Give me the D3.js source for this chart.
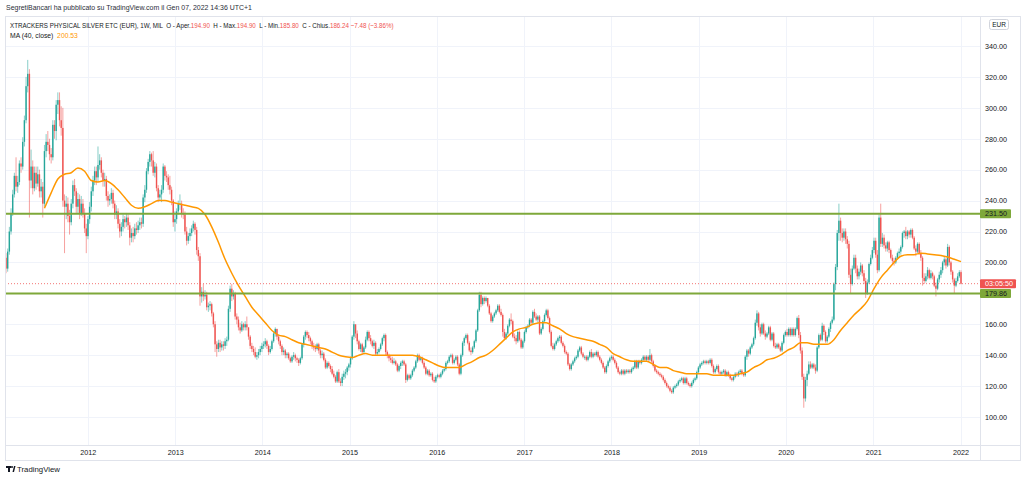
<!DOCTYPE html>
<html><head><meta charset="utf-8">
<script src="https://cdn.jsdelivr.net/npm/d3@7"></script>
<style>
html,body{margin:0;padding:0;background:#fff;}
svg{display:block;font-family:"Liberation Sans",Arial,sans-serif;}
</style></head><body>
<svg id="c" width="1024" height="480"></svg>
<script>
// ---------------- DATA (weekly bars) ----------------
const startWeek = "2011-01-24";
const firstOpen = 203;
const closes = [
196,207,220,232,244,256,249,252,264,262,
278,292,314,322,253,262,248,258,251,257,
246,249,238,272,278,276,270,268,289,285,
302,305,292,287,240,236,238,230,226,238,
250,246,236,241,232,238,232,222,217,228,
236,246,253,259,255,263,266,258,253,254,
243,240,241,245,238,231,233,225,220,223,
228,226,229,224,216,219,217,222,221,224,
226,225,242,247,259,265,270,266,258,262,
248,242,244,247,262,256,255,250,247,240,
226,228,233,238,238,232,231,220,214,217,
219,222,225,221,208,204,178,181,178,179,
171,172,173,167,160,147,144,148,145,147,
146,149,150,170,183,178,180,165,163,158,
156,160,158,160,158,152,146,144,142,139,
140,142,144,146,147,149,146,142,144,149,
154,157,152,149,146,142,143,140,141,138,
136,139,140,138,137,135,138,147,152,155,
153,151,149,146,145,144,147,143,140,141,
137,132,135,133,131,128,126,123,129,123,
122,126,128,129,132,134,138,152,160,154,
149,144,147,142,145,150,155,151,149,146,
148,141,142,144,147,151,153,142,140,138,
137,135,136,134,130,133,135,136,134,124,
127,125,127,130,132,136,140,137,138,135,
132,128,130,127,128,124,123,126,127,126,
128,130,131,135,136,139,140,135,137,139,
134,128,140,148,151,153,148,143,142,145,
149,156,169,179,173,177,175,177,172,167,
162,165,167,169,172,168,166,155,151,154,
159,163,162,152,151,149,155,150,145,149,
155,158,159,163,161,168,165,163,165,154,
157,162,166,169,164,155,146,144,147,149,
151,152,148,146,142,141,134,131,134,136,
138,139,143,145,141,139,139,137,139,142,
139,141,140,142,139,137,135,132,129,133,
136,138,139,137,135,132,129,128,130,128,
130,129,130,129,131,132,136,132,136,135,
137,139,137,139,137,140,136,133,130,129,
128,127,126,124,122,120,119,117,116,119,
120,121,123,124,125,122,125,122,121,120,
122,124,125,129,132,134,135,136,135,136,
135,137,133,129,131,133,129,128,129,130,
127,129,127,125,124,126,128,127,129,130,
128,127,139,143,141,145,147,151,161,167,
158,154,160,154,152,154,158,150,154,146,
145,147,145,143,148,153,155,153,157,153,
157,153,157,164,153,143,126,112,124,128,
134,132,134,132,130,145,153,150,159,155,
149,152,157,161,163,186,197,219,227,219,
216,220,215,212,192,186,196,203,196,191,
194,198,193,188,180,187,199,203,208,214,
205,195,229,212,216,211,209,213,208,203,
201,200,203,206,207,210,219,220,217,220,
218,221,216,209,207,212,206,203,190,188,
191,195,190,193,191,185,183,189,192,195,
200,202,198,210,200,194,189,185,188,191,
193.72,186.24];
const highs = [
206,209,223,235,247,258,268,256,266,268,
281,295,320,331,325,273,266,262,262,262,
260,254,252,276,283,285,280,274,292,292,
305,310,310,301,300,244,243,242,234,241,
253,254,248,245,244,243,241,235,225,230,
239,249,256,262,262,275,270,268,260,258,
256,246,244,248,247,240,237,235,228,226,
231,230,232,231,226,222,223,225,226,227,
229,229,244,250,261,267,272,271,272,265,
264,250,247,250,264,263,259,257,256,249,
241,233,235,240,244,240,235,233,223,219,
222,224,227,226,223,210,206,184,186,182,
181,174,175,174,168,162,149,150,150,149,
149,151,152,172,185,186,182,181,167,165,
161,162,161,162,165,158,153,148,146,145,
142,144,146,148,149,151,150,147,146,150,
155,158,157,153,150,147,145,144,142,142,
139,140,142,141,139,138,139,148,153,156,
156,155,152,150,148,147,148,148,144,143,
142,138,136,136,134,133,130,127,130,131,
125,128,130,131,133,135,139,153,162,159,
156,150,148,148,146,152,156,156,153,150,
150,149,144,145,148,152,154,154,143,141,
140,139,138,137,135,134,136,137,137,135,
128,128,128,131,133,137,141,141,139,139,
136,133,131,131,129,129,126,127,128,128,
129,131,132,136,137,140,141,141,138,140,
140,135,141,149,152,154,154,149,145,146,
150,157,170,181,181,178,178,178,177,173,
168,166,168,170,173,173,170,167,157,155,
160,164,167,163,154,153,156,156,151,150,
156,159,160,164,164,169,170,167,166,166,
158,163,167,170,170,165,156,148,148,150,
152,153,153,149,147,143,142,135,135,137,
139,140,144,146,146,142,140,140,140,143,
144,142,142,143,143,140,138,136,133,134,
137,139,140,140,138,136,133,130,131,131,
131,131,131,131,132,133,137,137,137,137,
138,140,140,140,140,144,141,137,134,131,
130,129,128,127,125,123,121,120,118,120,
121,122,124,125,126,126,126,126,123,122,
123,125,126,130,133,135,136,137,137,137,
137,138,138,134,132,134,134,130,130,131,
131,130,130,128,126,127,129,129,130,131,
131,129,140,144,144,146,148,152,163,169,
168,160,161,161,156,155,159,159,155,155,
148,148,148,146,149,154,156,157,158,158,
158,158,158,165,166,155,145,128,126,130,
136,136,135,135,134,146,154,154,161,160,
156,153,158,162,165,187,199,221,238,229,
222,222,222,217,214,196,198,205,205,198,
196,200,199,195,190,189,200,205,210,216,
216,208,231,238,219,218,213,214,214,209,
205,203,204,207,209,211,220,221,223,221,
221,222,222,217,211,213,213,208,204,193,
193,197,196,195,194,192,187,190,194,197,
201,204,203,212,211,201,195,190,190,193,
195,194.9];
const lows = [
193,194,205,218,230,242,246,245,250,258,
260,275,290,310,229,248,244,246,247,249,
242,242,229,236,268,272,266,264,266,280,
279,296,288,282,236,206,228,226,218,224,
235,243,232,232,228,230,229,219,206,215,
225,233,243,250,250,252,260,255,249,249,
240,236,237,238,235,228,228,222,216,217,
220,222,223,221,211,213,213,215,218,219,
221,222,223,239,245,257,262,262,256,255,
246,239,240,239,245,253,252,247,244,237,
223,220,225,231,234,229,228,218,211,212,
214,217,220,218,205,201,172,174,175,176,
169,168,169,165,158,142,139,142,142,143,
143,144,146,149,168,175,176,163,160,156,
154,155,156,156,156,150,144,142,140,138,
137,138,140,142,144,145,144,140,141,143,
148,152,150,147,144,140,140,138,138,137,
135,135,137,136,135,133,134,137,145,150,
151,149,147,144,143,142,143,141,138,138,
136,131,131,132,129,127,125,122,122,122,
120,120,124,125,127,130,132,137,150,151,
147,143,142,141,141,144,149,149,147,145,
144,140,140,141,143,146,149,140,138,136,
135,134,134,133,129,129,131,133,133,122,
123,124,124,126,129,131,135,136,136,134,
131,127,127,126,126,123,122,122,125,125,
125,127,129,130,134,135,138,134,134,136,
133,127,127,139,146,150,147,142,140,141,
144,148,155,168,171,172,173,174,171,166,
161,161,164,166,168,167,165,152,150,150,
153,158,160,151,149,147,148,149,144,144,
148,154,157,158,160,160,164,162,161,153,
153,156,161,165,163,154,145,143,143,146,
148,149,147,145,141,140,133,130,130,133,
135,137,138,142,140,138,137,136,136,138,
138,138,139,139,138,136,134,131,128,128,
132,135,137,136,134,131,128,127,127,127,
127,128,128,128,128,130,131,131,131,134,
134,136,136,136,136,136,135,132,129,128,
127,126,125,123,121,119,118,116,115,115,
118,119,120,122,123,121,121,121,120,119,
119,121,123,124,128,131,133,134,134,134,
134,134,132,128,128,130,128,127,127,128,
126,126,126,124,123,123,125,126,126,128,
127,126,126,137,139,140,144,146,150,159,
156,152,153,153,150,151,153,149,149,145,
144,144,144,142,142,147,152,152,152,152,
152,152,152,156,151,141,124,106,110,120,
127,131,131,131,128,129,144,149,149,153,
148,148,151,155,160,162,182,195,214,214,
213,214,212,209,190,180,185,195,193,189,
189,192,191,186,177,179,186,198,202,206,
203,193,194,210,210,209,207,207,206,202,
199,198,199,202,204,205,209,216,215,215,
216,216,215,208,204,206,205,201,185,186,
187,189,189,189,189,184,178,182,187,190,
193,198,196,197,198,192,187,180,184,187,
190,185.8];
// 40-week moving average of close, read every 4th bar starting at bar 23
const maStartIndex = 23, maStep = 4;
const ma40 = [
235,245,254,257,258,261,259,253,252,253,251,247,242,237,235,236,238,240,240,239,
238,237,236,235,231,223,213,202,193,185,178,171,166,161,156,153,152,150,148,147,
146,145,144,142,140,139,138.5,140,141,140,140,140,140,140,140,140,139,137,135,133,
132,132,132,134,136,138.5,140,143,147,151,155,157,158,160,161,161,159,157,154,152,
151,150,149,147,145,141,139,137,136,136,136,134,132,132,130,129,128,128,128,128,
127,127,127,127,128,129,132,134,137,138,140,143,145,148,148,147,147,147,150,156,
161,166,170,175,183,190,195,200,204,205,205,206,205.5,205,204.5,203.5,202,200.53];
const priceTicks = [100,120,140,160,180,200,220,240,260,280,300,320,340];
const yearTicks = [2012,2013,2014,2015,2016,2017,2018,2019,2020,2021,2022];
const levelLines = [231.50, 179.86];
const lastClose = 186.24;
const countdown = "03:05:50";
const headerTop = "SegretiBancari ha pubblicato su TradingView.com il Gen 07, 2022 14:36 UTC+1";
const titleText = "XTRACKERS PHYSICAL SILVER ETC (EUR), 1W, MIL";
const ohlcLabels = ["O - Aper.","H - Max.","L - Min.","C - Chius."];
const ohlcValues = ["194.90","194.90","185.80","186.24"];
const changeText = "\u22127.48 (\u22123.86%)";
const maLegend = "MA (40, close)";
const maValue = "200.53";

// ---------------- LAYOUT ----------------
const W = 1024, H = 480;
const plotL = 5, plotR = 980, plotT = 16, plotB = 445, frameR = 1020, frameB = 460;
const UP = "#26a69a", DOWN = "#ef5350", MA = "#ff9800", LEVEL = "#7ea83a", GRID = "#f0f3fa", BORDER = "#e0e3eb", TXT = "#131722";

const svg = d3.select("#c");
svg.append("rect").attr("width", W).attr("height", H).attr("fill", "#fff");

const t0 = d3.timeParse("%Y-%m-%d")(startWeek);
const bars = closes.map((c, i) => ({
  date: d3.timeWeek.offset(t0, i),
  o: i === 0 ? firstOpen : closes[i - 1],
  h: highs[i], l: lows[i], c: c
}));

const x = d3.scaleTime()
  .domain([bars[0].date, bars[bars.length - 1].date])
  .range([6, 961]);
const y = d3.scaleLinear().domain([100, 340]).range([417, 46]);

// grid
const grid = svg.append("g");
grid.selectAll("line.h").data(priceTicks).join("line")
  .attr("x1", plotL).attr("x2", plotR)
  .attr("y1", d => Math.round(y(d)) + 0.5).attr("y2", d => Math.round(y(d)) + 0.5)
  .attr("stroke", GRID).attr("stroke-width", 1);
const yearDates = yearTicks.map(yr => new Date(yr, 0, 1));
grid.selectAll("line.v").data(yearDates).join("line")
  .attr("x1", d => Math.round(x(d)) + 0.5).attr("x2", d => Math.round(x(d)) + 0.5)
  .attr("y1", plotT).attr("y2", plotB)
  .attr("stroke", GRID).attr("stroke-width", 1);

// candles
const plot = svg.append("g");
plot.selectAll("line.w").data(bars).join("line")
  .attr("x1", d => x(d.date)).attr("x2", d => x(d.date))
  .attr("y1", d => y(d.h)).attr("y2", d => y(d.l))
  .attr("stroke", d => d.c >= d.o ? UP : DOWN)
  .attr("stroke-opacity", 0.55).attr("stroke-width", 1);
plot.selectAll("rect.b").data(bars).join("rect")
  .attr("x", d => x(d.date) - 0.7).attr("width", 1.4)
  .attr("y", d => y(Math.max(d.o, d.c)))
  .attr("height", d => Math.max(1, Math.abs(y(d.o) - y(d.c))))
  .attr("fill", d => d.c >= d.o ? UP : DOWN);

// moving average
const maPts = ma40.map((v, k) => ({ date: bars[maStartIndex + k * maStep].date, v }));
plot.append("path").datum(maPts)
  .attr("fill", "none").attr("stroke", MA).attr("stroke-width", 1.5)
  .attr("d", d3.line().x(d => x(d.date)).y(d => y(d.v)).curve(d3.curveMonotoneX));

// level lines
svg.selectAll("line.lvl").data(levelLines).join("line")
  .attr("x1", plotL).attr("x2", plotR)
  .attr("y1", d => y(d)).attr("y2", d => y(d))
  .attr("stroke", LEVEL).attr("stroke-width", 2);

// last price dotted line
svg.append("line").attr("x1", plotL).attr("x2", plotR)
  .attr("y1", y(lastClose)).attr("y2", y(lastClose))
  .attr("stroke", DOWN).attr("stroke-width", 1).attr("stroke-dasharray", "1,2").attr("stroke-opacity", 0.8);

// frame
const frame = svg.append("g").attr("stroke", BORDER).attr("stroke-width", 1).attr("fill", "none");
frame.append("rect").attr("x", plotL + 0.5).attr("y", plotT + 0.5).attr("width", frameR - plotL).attr("height", frameB - plotT);
frame.append("line").attr("x1", plotR + 0.5).attr("x2", plotR + 0.5).attr("y1", plotT).attr("y2", frameB);
frame.append("line").attr("x1", plotL).attr("x2", frameR).attr("y1", plotB + 0.5).attr("y2", plotB + 0.5);

// right axis
const yAxis = d3.axisRight(y).tickValues(priceTicks).tickFormat(d3.format(".2f")).tickSize(0).tickPadding(5);
const ya = svg.append("g").attr("transform", `translate(${plotR},0)`).call(yAxis);
ya.select(".domain").remove();
ya.selectAll("text").attr("fill", TXT).attr("font-size", 7.2).attr("font-family", "Liberation Sans, Arial, sans-serif");

// bottom axis
const xAxis = d3.axisBottom(x).tickValues(yearDates).tickFormat(d3.timeFormat("%Y")).tickSize(0).tickPadding(5);
const xa = svg.append("g").attr("transform", `translate(0,${plotB})`).call(xAxis);
xa.select(".domain").remove();
xa.selectAll("text").attr("fill", TXT).attr("font-size", 7.2).attr("font-family", "Liberation Sans, Arial, sans-serif");

// EUR box
svg.append("rect").attr("x", 989.5).attr("y", 19.5).attr("width", 19).attr("height", 10).attr("rx", 2)
  .attr("fill", "#fff").attr("stroke", "#d1d4dc");
svg.append("text").attr("x", 999).attr("y", 27).attr("text-anchor", "middle")
  .attr("font-size", 6.5).attr("fill", TXT).text("EUR");

// price tags
function tag(val, txt, fill, color, w) {
  const yy = y(val);
  svg.append("rect").attr("x", plotR).attr("y", yy - 4.5).attr("width", w).attr("height", 9).attr("rx", 1).attr("fill", fill);
  svg.append("text").attr("x", 985).attr("y", yy + 2.6).attr("font-size", 7.2).attr("fill", color).text(txt);
}
tag(levelLines[0], levelLines[0].toFixed(2), LEVEL, TXT, 31);
tag(levelLines[1], levelLines[1].toFixed(2), LEVEL, TXT, 31);
tag(lastClose, countdown, DOWN, "#fff", 36);

// header text: each line drawn at natural size then squeezed horizontally to its target width
function fitLine(x0, y0, width, size, parts) {
  const g = svg.append("g");
  const t = g.append("text").attr("x", 0).attr("y", 0).attr("font-size", size).attr("xml:space", "preserve");
  parts.forEach(p => t.append("tspan").attr("fill", p[1]).text(p[0]));
  const natural = t.node().getComputedTextLength();
  g.attr("transform", `translate(${x0},${y0}) scale(${width / natural},1)`);
}
fitLine(6, 10, 246, 8, [[headerTop, "#2a2e39"]]);
const l1parts = [[titleText + "  ", TXT]];
ohlcLabels.forEach((s, k) => {
  l1parts.push([(k ? "  " : "") + s, TXT]);
  l1parts.push([ohlcValues[k], DOWN]);
});
l1parts.push([" " + changeText, DOWN]);
fitLine(10, 28, 384, 7.8, l1parts);
fitLine(10, 38, 68, 7.8, [[maLegend + "  ", TXT], [maValue, MA]]);

// TradingView logo
const logo = svg.append("g").attr("fill", TXT);
logo.append("rect").attr("x", 6).attr("y", 466).attr("width", 5).attr("height", 2);
logo.append("rect").attr("x", 8).attr("y", 466).attr("width", 2).attr("height", 6);
logo.append("circle").attr("cx", 12).attr("cy", 467).attr("r", 1);
logo.append("path").attr("d", "M12.5,472 L14,466 L15.5,466 L14,472 Z");
fitLine(17, 472, 43, 7.5, [["TradingView", TXT]]);
</script>
</body></html>
